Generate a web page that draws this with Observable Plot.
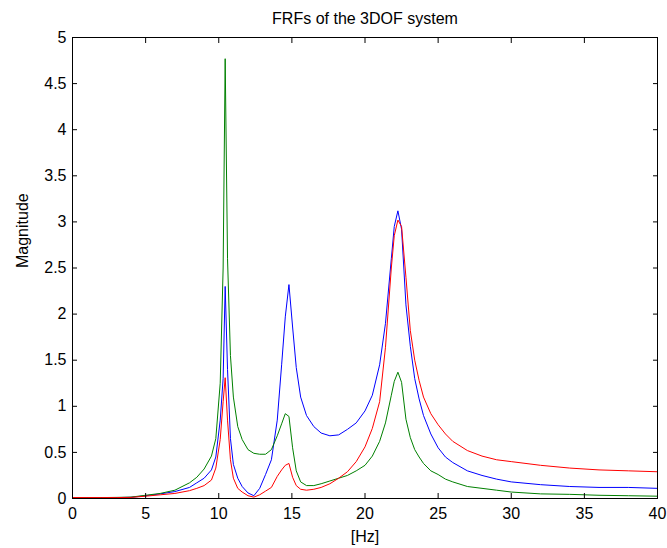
<!DOCTYPE html>
<html>
<head>
<meta charset="utf-8">
<script src="https://cdn.jsdelivr.net/npm/d3@7"></script>
<script src="https://cdn.jsdelivr.net/npm/@observablehq/plot@0.6"></script>
<style>
  html, body { margin: 0; padding: 0; background: #fff; }
  #chart svg { display: block; }
</style>
</head>
<body>
<div id="chart"></div>
<script>
const titleText = "FRFs of the 3DOF system";
const xLabel = "[Hz]";
const yLabel = "Magnitude";
const xTicks = [0, 5, 10, 15, 20, 25, 30, 35, 40];
const yTicks = [0, 0.5, 1, 1.5, 2, 2.5, 3, 3.5, 4, 4.5, 5];

const freq = [0, 1, 2, 3, 4, 5, 6, 7, 8, 8.5, 9, 9.5, 9.8, 10.1, 10.3, 10.44, 10.6, 10.8, 11.0, 11.3, 11.6, 12.0, 12.4, 12.8, 13.2, 13.6, 14.0, 14.3, 14.55, 14.8, 15.05, 15.3, 15.6, 16.0, 16.5, 17.0, 17.6, 18.2, 18.8, 19.4, 20.0, 20.5, 21.0, 21.4, 21.8, 22.0, 22.25, 22.5, 22.8, 23.1, 23.4, 23.7, 24.0, 24.5, 25.0, 25.5, 26.0, 27.0, 28.0, 29.0, 30.0, 32.0, 34.0, 36.0, 38.0, 40.0];
const blueH = [0.01, 0.01, 0.01, 0.01, 0.013, 0.03, 0.05, 0.075, 0.12, 0.17, 0.22, 0.31, 0.45, 0.85, 1.3, 2.30, 1.4, 0.65, 0.37, 0.22, 0.13, 0.06, 0.03, 0.11, 0.26, 0.42, 0.85, 1.45, 1.97, 2.32, 1.86, 1.42, 1.10, 0.90, 0.78, 0.71, 0.68, 0.69, 0.75, 0.82, 0.95, 1.12, 1.45, 1.90, 2.60, 2.95, 3.12, 2.92, 2.10, 1.65, 1.30, 1.08, 0.90, 0.70, 0.55, 0.45, 0.39, 0.30, 0.25, 0.21, 0.18, 0.15, 0.13, 0.12, 0.12, 0.11];
const greenH = [0.01, 0.01, 0.01, 0.012, 0.015, 0.035, 0.055, 0.09, 0.17, 0.23, 0.32, 0.46, 0.65, 1.25, 2.5, 4.77, 2.6, 1.55, 1.1, 0.78, 0.64, 0.53, 0.49, 0.48, 0.48, 0.53, 0.68, 0.81, 0.92, 0.89, 0.55, 0.30, 0.18, 0.14, 0.14, 0.16, 0.19, 0.22, 0.25, 0.30, 0.36, 0.46, 0.62, 0.82, 1.12, 1.27, 1.37, 1.26, 0.86, 0.66, 0.53, 0.45, 0.38, 0.30, 0.26, 0.21, 0.18, 0.13, 0.11, 0.09, 0.07, 0.05, 0.045, 0.035, 0.03, 0.025];
const redH = [0.01, 0.01, 0.01, 0.01, 0.012, 0.025, 0.04, 0.055, 0.085, 0.11, 0.14, 0.20, 0.33, 0.64, 1.05, 1.31, 0.85, 0.42, 0.22, 0.11, 0.07, 0.03, 0.015, 0.04, 0.08, 0.12, 0.24, 0.31, 0.36, 0.38, 0.23, 0.14, 0.10, 0.09, 0.10, 0.12, 0.16, 0.22, 0.29, 0.40, 0.56, 0.76, 1.05, 1.64, 2.50, 2.85, 3.02, 2.95, 2.40, 1.82, 1.50, 1.28, 1.10, 0.92, 0.80, 0.70, 0.62, 0.52, 0.46, 0.42, 0.40, 0.36, 0.33, 0.31, 0.30, 0.29];

const seriesNames = ["H1", "H2", "H3"];
const seriesColors = ["#0000ff", "#008000", "#ff0000"];
const seriesValues = [blueH, greenH, redH];

const rows = [];
seriesValues.forEach((vals, si) => {
  vals.forEach((v, i) => rows.push({series: seriesNames[si], f: freq[i], h: v}));
});

const font = "'Liberation Sans', Arial, Helvetica, sans-serif";
const fmt = d => String(d);

const chart = Plot.plot({
  width: 667,
  height: 548,
  marginLeft: 72,
  marginRight: 10,
  marginTop: 37,
  marginBottom: 50,
  style: {fontFamily: font, fontSize: "16px", color: "black", background: "white"},
  x: {domain: [0, 40]},
  y: {domain: [0, 5]},
  color: {domain: seriesNames, range: seriesColors},
  marks: [
    Plot.line(rows, {x: "f", y: "h", z: "series", stroke: "series", strokeWidth: 1}),
    Plot.frame({stroke: "black", strokeWidth: 1}),
    Plot.axisX({anchor: "bottom", ticks: xTicks, tickSize: -5, tickPadding: 14, tickFormat: fmt, label: null, fontSize: 16}),
    Plot.axisX({anchor: "top", ticks: xTicks, tickSize: -5, tickFormat: () => "", label: null}),
    Plot.axisY({anchor: "left", ticks: yTicks, tickSize: -5, tickPadding: 11, tickFormat: fmt, label: null, fontSize: 16}),
    Plot.axisY({anchor: "right", ticks: yTicks, tickSize: -5, tickFormat: () => "", label: null}),
    Plot.text([titleText], {frameAnchor: "top", lineAnchor: "middle", dy: -19, fontSize: 16}),
    Plot.text([xLabel], {frameAnchor: "bottom", lineAnchor: "middle", dy: 38, fontSize: 16}),
    Plot.text([yLabel], {frameAnchor: "left", lineAnchor: "middle", rotate: -90, dx: -50, fontSize: 16})
  ]
});
document.getElementById("chart").appendChild(chart);
</script>
</body>
</html>
